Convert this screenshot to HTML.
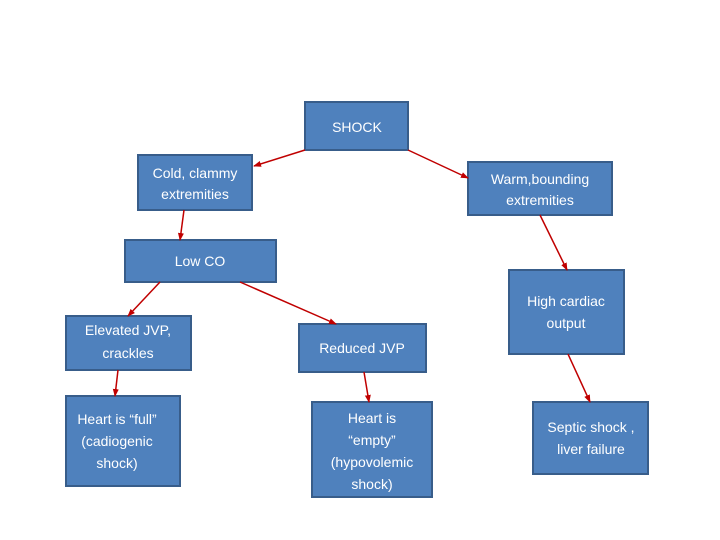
<!DOCTYPE html>
<html><head><style>body{margin:0;background:#fff}svg{display:block}</style></head><body>
<svg width="720" height="540" xmlns="http://www.w3.org/2000/svg" font-family="Liberation Sans, sans-serif" font-size="14" fill="#fff">
<defs><marker id="a" markerWidth="8" markerHeight="8" refX="7" refY="4" orient="auto" markerUnits="userSpaceOnUse"><path d="M0,1 L8,4 L0,7 z" fill="#c00000"/></marker></defs>
<g fill="#4f81bd" stroke="#385d8a" stroke-width="2">
<rect x="305" y="102" width="103" height="48"/>
<rect x="138" y="155" width="114" height="55"/>
<rect x="468" y="162" width="144" height="53"/>
<rect x="125" y="240" width="151" height="42"/>
<rect x="509" y="270" width="115" height="84"/>
<rect x="66" y="316" width="125" height="54"/>
<rect x="299" y="324" width="127" height="48"/>
<rect x="66" y="396" width="114" height="90"/>
<rect x="312" y="402" width="120" height="95"/>
<rect x="533" y="402" width="115" height="72"/>
</g>
<g stroke="#c00000" stroke-width="1.5" marker-end="url(#a)">
<line x1="305" y1="150" x2="254" y2="166"/>
<line x1="408" y1="150" x2="468" y2="178"/>
<line x1="184" y1="210" x2="180" y2="240"/>
<line x1="540" y1="215" x2="567" y2="270"/>
<line x1="160" y1="282" x2="128" y2="316"/>
<line x1="240" y1="282" x2="336" y2="324"/>
<line x1="118" y1="370" x2="115" y2="396"/>
<line x1="364" y1="372" x2="369" y2="402"/>
<line x1="568" y1="354" x2="590" y2="402"/>
</g>
<g text-anchor="middle">
<text x="357" y="132">SHOCK</text>
<text x="195" y="178">Cold, clammy</text><text x="195" y="199">extremities</text>
<text x="540" y="184">Warm,bounding</text><text x="540" y="205">extremities</text>
<text x="200" y="266">Low CO</text>
<text x="566" y="306">High cardiac</text><text x="566" y="328">output</text>
<text x="128" y="335">Elevated JVP,</text><text x="128" y="358">crackles</text>
<text x="362" y="353">Reduced JVP</text>
<text x="117" y="424">Heart is “full”</text><text x="117" y="446">(cadiogenic</text><text x="117" y="468">shock)</text>
<text x="372" y="423">Heart is</text><text x="372" y="445">“empty”</text><text x="372" y="467">(hypovolemic</text><text x="372" y="489">shock)</text>
<text x="591" y="432">Septic shock ,</text><text x="591" y="454">liver failure</text>
</g>
</svg>
</body></html>
